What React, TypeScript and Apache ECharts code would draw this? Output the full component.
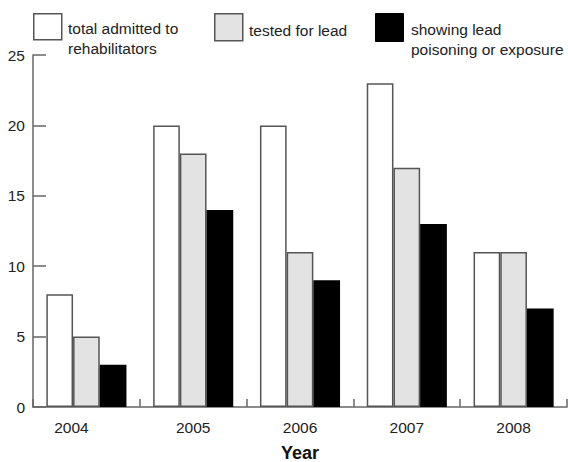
import React, { useEffect, useRef } from "react";
import * as echarts from "echarts";

const categories = ["2004", "2005", "2006", "2007", "2008"];
const totalAdmitted = [8, 20, 20, 23, 11];
const testedForLead = [5, 18, 11, 17, 11];
const showingLead = [3, 14, 9, 13, 7];
const seriesNames = [
  "total admitted to\nrehabilitators",
  "tested for lead",
  "showing lead\npoisoning or exposure",
];
const yTicks = [0, 5, 10, 15, 20, 25];

const FONT = "'Liberation Sans', Arial, Helvetica, sans-serif";
const EDGE = "#555";

export default function App() {
  const ref = useRef<HTMLDivElement>(null);
  useEffect(() => {
    if (!ref.current) return;
    const chart = echarts.init(ref.current, undefined, { renderer: "svg" });
    const barStyle = (fill: string) => ({
      color: fill,
      borderColor: fill === "#000000" ? "#000000" : EDGE,
      borderWidth: 1.5,
    });
    chart.setOption({
      animation: false,
      backgroundColor: "#ffffff",
      textStyle: { fontFamily: FONT },
      grid: { left: 33, right: 1, top: 55, bottom: 55, containLabel: false, outerBoundsMode: "none" },
      xAxis: {
        type: "category",
        data: categories,
        name: "Year",
        nameLocation: "middle",
        nameGap: 37,
        nameTextStyle: { fontSize: 18, fontWeight: "bold", color: "#111", fontFamily: FONT },
        axisLine: { lineStyle: { color: "#666", width: 1.5 } },
        axisTick: { show: true, inside: true, length: 8, lineStyle: { color: "#666", width: 1.5 } },
        axisLabel: {
          margin: 12,
          fontSize: 15.5,
          color: "#222",
          fontFamily: FONT,
          formatter: (v: string) => (v === categories[0] ? "{f|" + v + "}" : v),
          rich: { f: { padding: [0, 30, 0, 0], fontSize: 15.5, color: "#222", fontFamily: FONT } },
        },
      },
      yAxis: {
        type: "value",
        min: yTicks[0],
        max: yTicks[yTicks.length - 1],
        interval: yTicks[1] - yTicks[0],
        splitLine: { show: false },
        axisLine: { show: true, lineStyle: { color: "#666", width: 1.5 } },
        axisTick: { show: true, inside: true, length: 13, lineStyle: { color: "#666", width: 1.5 } },
        axisLabel: { margin: 8, fontSize: 15.5, color: "#222", fontFamily: FONT },
      },
      legend: { show: false },
      series: [
        {
          name: seriesNames[0],
          type: "bar",
          data: totalAdmitted,
          barGap: "0%",
          barCategoryGap: "25%",
          itemStyle: barStyle("#ffffff"),
        },
        {
          name: seriesNames[1],
          type: "bar",
          data: testedForLead,
          barGap: "0%",
          barCategoryGap: "25%",
          itemStyle: barStyle("#e3e3e3"),
        },
        {
          name: seriesNames[2],
          type: "bar",
          data: showingLead,
          barGap: "0%",
          barCategoryGap: "25%",
          itemStyle: barStyle("#000000"),
        },
      ],
      graphic: [
        { type: "rect", left: 33, top: 13, shape: { width: 28, height: 26 }, style: { fill: "#ffffff", stroke: EDGE, lineWidth: 1.5 } },
        { type: "text", x: 68, y: 18, style: { text: seriesNames[0], font: `15.5px ${FONT}`, fill: "#222", lineHeight: 20, textVerticalAlign: "top" } },
        { type: "rect", left: 214, top: 13, shape: { width: 28, height: 27 }, style: { fill: "#e3e3e3", stroke: EDGE, lineWidth: 1.5 } },
        { type: "text", x: 249, y: 20, style: { text: seriesNames[1], font: `15.5px ${FONT}`, fill: "#222", lineHeight: 20, textVerticalAlign: "top" } },
        { type: "rect", left: 375, top: 13, shape: { width: 28, height: 28 }, style: { fill: "#000000", stroke: "#000", lineWidth: 1 } },
        { type: "text", x: 411, y: 19, style: { text: seriesNames[2], font: `15.5px ${FONT}`, fill: "#222", lineHeight: 20, textVerticalAlign: "top" } },
      ],
    });
    return () => chart.dispose();
  }, []);
  return <div ref={ref} style={{ width: 568, height: 462, position: "absolute", left: 0, top: 0 }} />;
}
